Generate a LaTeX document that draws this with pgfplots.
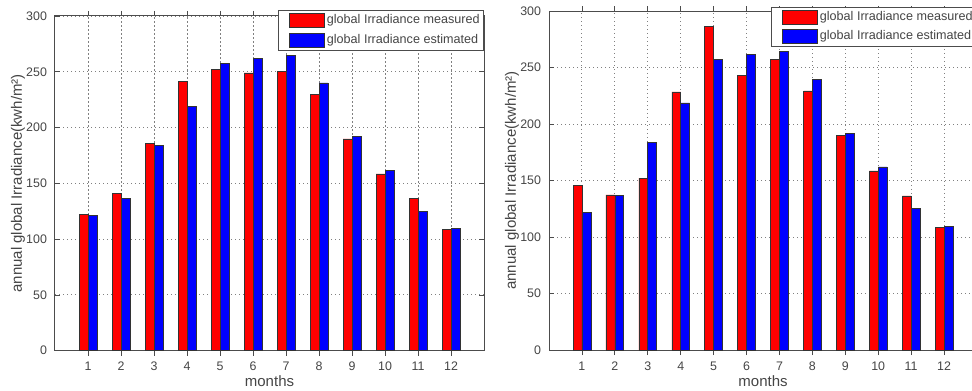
\documentclass[border=0pt]{standalone}
\usepackage{pgfplots}
\pgfplotsset{compat=1.18}
\usepackage{pgfplotstable}
\usepackage{fontspec}
\setmainfont{Liberation Sans}
\definecolor{txt}{gray}{0.27}
\definecolor{mred}{rgb}{1,0,0}
\definecolor{mblue}{rgb}{0,0,1}

\pgfplotstableread{
m meas est
1  122.2 121.3
2  140.7 136.5
3  185.5 184.0
4  241.7 219.0
5  252.0 257.5
6  249.0 261.7
7  250.5 264.5
8  229.5 240.0
9  189.8 191.8
10 158.5 161.8
11 136.5 125.2
12 108.5 109.6
}\leftdata

\pgfplotstableread{
m meas est
1  145.8 121.8
2  137.3 136.6
3  152.0 183.8
4  228.4 218.7
5  286.2 257.0
6  243.2 261.8
7  257.0 264.4
8  229.3 239.8
9  189.8 191.5
10 158.5 162.0
11 136.4 125.1
12 108.4 109.5
}\rightdata

\pgfplotsset{
  mystyle/.style={
    scale only axis, ybar, bar width=0.27,
    xmin=0, xmax=13, ymin=0, ymax=300,
    xtick={1,...,12}, ytick={0,50,...,300},
    grid=major,
    major grid style={black!50, dash pattern=on 0.7pt off 1.3pt, line width=0.45pt},
    axis line style={black!70, line width=0.5pt},
    tick style={black!70, line width=0.4pt}, major tick length=2.5pt,
    tick label style={font=\fontsize{6.2}{7}\selectfont, text=txt},
    /pgf/number format/assume math mode=true,
    xticklabel style={anchor=base, yshift=-7.5pt},
    yticklabel style={xshift=-0.5pt},
    label style={font=\fontsize{7.5}{9}\selectfont, text=txt},
    xlabel={months},
    ylabel={annual global Irradiance(kwh/m²)},
    xlabel style={at={(axis description cs:0.5,0)}, anchor=base, yshift=-18pt},
    legend cell align=left,
    legend style={font=\fontsize{6.3}{7.5}\selectfont, text=txt, draw=black!70, fill=white,
      inner xsep=1pt, inner ysep=1pt, row sep=1.6pt, nodes={inner sep=1pt}, anchor=north east},
  },
  redbar/.style={fill=mred, draw=black!80, line width=0.3pt, bar shift=-0.135,
    legend image code/.code={\path (0pt,0pt); \draw[fill=mred, draw=black!80, line width=0.3pt] (4.5pt,-3.5pt) rectangle (22pt,3.5pt);}},
  bluebar/.style={fill=mblue, draw=black!80, line width=0.3pt, bar shift=0.135,
    legend image code/.code={\path (0pt,0pt); \draw[fill=mblue, draw=black!80, line width=0.3pt] (4.5pt,-3.5pt) rectangle (22pt,3.5pt);}},
}

\begin{document}
\begin{tikzpicture}
\begin{scope}
\clip (0pt,0pt) rectangle (486pt,195pt);
\begin{axis}[mystyle, at={(27.5pt,19.65pt)}, anchor=south west,
  width=214.5pt, height=167.35pt,
  ylabel style={at={(axis description cs:-0.0862,0.5)}, anchor=center},
  legend style={at={(1,1.017)}}]
\addplot[redbar] table[x=m, y=meas] {\leftdata};
\addplot[bluebar] table[x=m, y=est] {\leftdata};
\legend{global Irradiance measured, global Irradiance estimated}
\end{axis}
\begin{axis}[mystyle, at={(274.5pt,20pt)}, anchor=south west,
  width=214pt, height=169.5pt,
  axis x line*=box, axis y line*=left,
  ylabel style={at={(axis description cs:-0.0864,0.5)}, anchor=center},
  legend style={at={(1,1.012)}}]
\addplot[redbar] table[x=m, y=meas] {\rightdata};
\addplot[bluebar] table[x=m, y=est] {\rightdata};
\legend{global Irradiance measured, global Irradiance estimated}
\end{axis}
\end{scope}
\pgfresetboundingbox
\useasboundingbox (0pt,0pt) rectangle (486pt,195pt);
\end{tikzpicture}
\end{document}
